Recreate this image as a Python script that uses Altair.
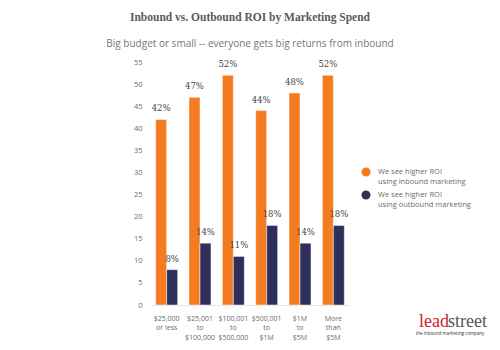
import altair as alt
import pandas as pd

categories = ["$25,000|or less", "$25,001|to|$100,000", "$100,001|to|$500,000",
              "$500,001|to|$1M", "$1M|to|$5M", "More|than|$5M"]
series = ["We see higher ROI|using inbound marketing", "We see higher ROI|using outbound marketing"]
inbound = [42, 47, 52, 44, 48, 52]
outbound = [8, 14, 11, 18, 14, 18]
y_ticks = list(range(0, 56, 5))

rows = []
for c, a, b in zip(categories, inbound, outbound):
    rows.append({"cat": c, "series": series[0], "v": a, "label": f"{a}%"})
    rows.append({"cat": c, "series": series[1], "v": b, "label": f"{b}%"})
df = pd.DataFrame(rows)

ORANGE = "#f47b20"
NAVY = "#2e2f5c"
GRAY = "#6b6b6b"

x = alt.X("cat:N", sort=categories, title=None,
          scale=alt.Scale(paddingInner=0.34, paddingOuter=0.17),
          axis=alt.Axis(labelExpr="split(datum.label, '|')", labelAngle=0,
                        labelFontSize=7, labelColor=GRAY, labelFont="Open Sans",
                        labelLineHeight=9.5, labelPadding=9, ticks=False,
                        domain=True, domainColor="#e6e6e6"))
y = alt.Y("v:Q", title=None,
          scale=alt.Scale(domain=[0, 55], nice=False),
          axis=alt.Axis(values=y_ticks, grid=False, ticks=False, domain=False,
                        labelFontSize=7.5, labelColor=GRAY, labelFont="Open Sans",
                        labelPadding=8))
xo = alt.XOffset("series:N", sort=series)
color = alt.Color("series:N", sort=series,
                  scale=alt.Scale(domain=series, range=[ORANGE, NAVY]),
                  legend=alt.Legend(title=None, orient="none", legendX=210, legendY=104,
                                    symbolType="circle", symbolSize=110,
                                    labelExpr="split(datum.label, '|')",
                                    labelFontSize=7.5, labelColor=GRAY, labelFont="Open Sans",
                                    rowPadding=1, labelOffset=6))

base = alt.Chart(df)
bars = base.mark_bar(stroke="white", strokeWidth=0.5).encode(x=x, y=y, xOffset=xo, color=color)
labels = base.mark_text(dy=-11, fontSize=8.5, font="DejaVu Serif", color="#444").encode(
    x=x, y=y, xOffset=xo, text="label:N")

one = pd.DataFrame({"k": [0]})
title = alt.Chart(one).mark_text(fontSize=11.5, font="Liberation Serif", fontWeight="bold",
                                 color="#5a5a5a").encode(
    x=alt.value(100), y=alt.value(-44), text=alt.value("Inbound vs. Outbound ROI by Marketing Spend"))
subtitle = alt.Chart(one).mark_text(fontSize=10, font="Open Sans", color="#777").encode(
    x=alt.value(100), y=alt.value(-18),
    text=alt.value("Big budget or small -- everyone gets big returns from inbound"))
logo1 = alt.Chart(one).mark_text(fontSize=18, font="Liberation Serif", color="#d32027",
                                 align="right").encode(
    x=alt.value(299), y=alt.value(260), text=alt.value("lead"))
logo2 = alt.Chart(one).mark_text(fontSize=18, font="Liberation Serif", color="#555",
                                 align="left").encode(
    x=alt.value(298), y=alt.value(260), text=alt.value("street"))
logo3 = alt.Chart(one).mark_text(fontSize=4.5, font="Open Sans", color="#333").encode(
    x=alt.value(300), y=alt.value(272), text=alt.value("the inbound marketing company"))

chart = alt.layer(bars, labels, title, subtitle, logo1, logo2, logo3).properties(
    width=200, height=243,
    autosize=alt.AutoSizeParams(type="none"),
    padding={"left": 150, "top": 62, "right": 150, "bottom": 45},
    background="white",
).configure_view(stroke=None)

chart.save("out.html", embed_options={"renderer": "svg", "actions": False})
